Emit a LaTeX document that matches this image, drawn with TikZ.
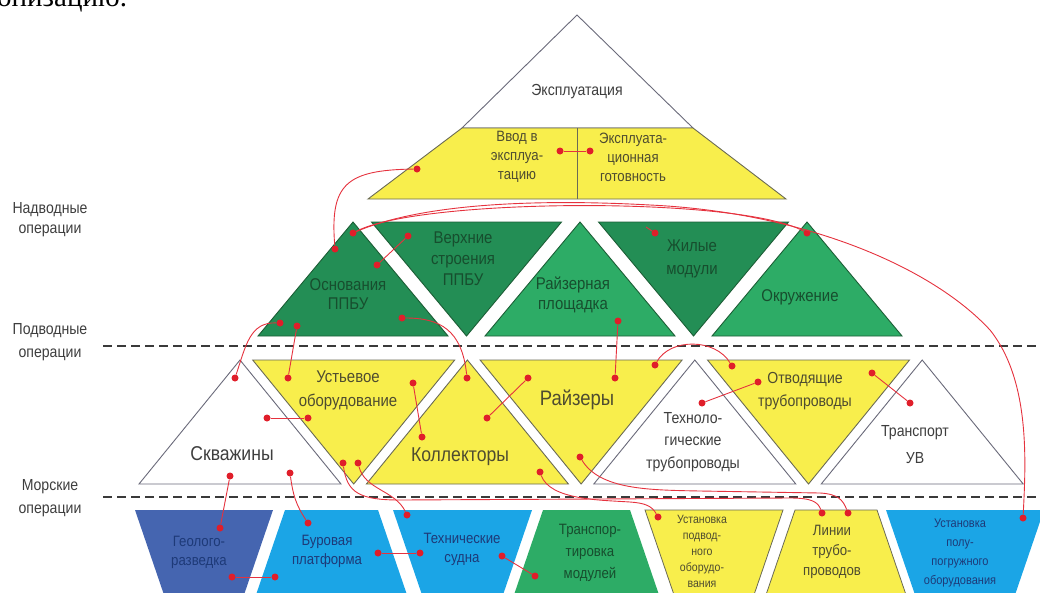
\documentclass[tikz,border=0pt]{standalone}
\usepackage{fontspec}
\setmainfont{Liberation Sans}[FakeStretch=0.88]
\newfontfamily\fragfont{Liberation Serif}
\newcommand\fsz[2]{\fontsize{#1}{#2}\selectfont}
\definecolor{ylw}{HTML}{F8EE4C}
\definecolor{grD}{HTML}{238E55}
\definecolor{grL}{HTML}{2DAC66}
\definecolor{gedge}{HTML}{1C5E36}
\definecolor{yedge}{HTML}{6A6A55}
\definecolor{triedge}{HTML}{6A6A7A}
\definecolor{navyB}{HTML}{4565B0}
\definecolor{ltB}{HTML}{1BA5E6}
\definecolor{dotred}{HTML}{E01E2A}
\definecolor{lnred}{HTML}{E5323E}
\definecolor{sepgray}{HTML}{3A3A3A}
\definecolor{txgray}{HTML}{3E3E3E}
\definecolor{txolive}{HTML}{4E4C30}
\definecolor{txgreen}{HTML}{174E2E}
\definecolor{txnavy}{HTML}{1E3A78}
\begin{document}
\begin{tikzpicture}[x=1pt,y=-1pt,
  tri/.style={line width=0.9pt, line join=miter},
  wtri/.style={tri, draw=triedge, fill=white},
  ytri/.style={tri, draw=yedge, fill=ylw},
  gtriD/.style={tri, draw=gedge, fill=grD},
  gtriL/.style={tri, draw=gedge, fill=grL},
  trapB/.style={fill=navyB},
  trapL/.style={fill=ltB},
  trapG/.style={fill=grL},
  trapY/.style={fill=ylw, draw=yedge, line width=0.8pt},
  lbl/.style={align=center, inner sep=0pt},
  conn/.style={draw=lnred, line width=0.9pt},
  rdot/.style={circle, fill=dotred, inner sep=0pt, minimum size=7pt},
  sepline/.style={draw=sepgray, line width=1.4pt, dash pattern=on 9pt off 5pt}
]
\useasboundingbox (0,0) rectangle (1040,592);

% fragment of body text at the top edge
\node[anchor=base west, inner sep=0pt, font=\fragfont\fsz{29}{30}] (frag) at (-3,6) {онизацию.};

% ---------- top pyramid ----------
\draw[tri, draw=triedge, fill=white] (577,15) -- (693,128) -- (462,128) -- cycle;
\draw[tri, draw=yedge, fill=ylw] (462,128) -- (693,128) -- (786,199) -- (368,199) -- cycle;
\draw[tri, draw=yedge] (577,128) -- (577,199);
\node[lbl, font=\fsz{16}{19}, text=txgray] (expl) at (577,92) {Эксплуатация};
\node[lbl, font=\fsz{15}{19}, text=txolive] (vvod) at (517,157) {Ввод в\\эксплуа-\\тацию};
\node[lbl, font=\fsz{15}{19}, text=txolive] (gotov) at (633,157) {Эксплуата-\\ционная\\готовность};

% ---------- tier 2 (surface) ----------
\draw[gtriD] (353,222) -- ++(95,114) -- ++(-190,0) -- cycle;
\draw[gtriD] (371.5,222) -- ++(190,0) -- ++(-95,114) -- cycle;
\draw[gtriL] (580,222) -- ++(95,114) -- ++(-190,0) -- cycle;
\draw[gtriD] (598.5,222) -- ++(190,0) -- ++(-95,114) -- cycle;
\draw[gtriL] (807,222) -- ++(95,114) -- ++(-190,0) -- cycle;
\node[lbl, font=\fsz{17}{19}, text=txgreen] (osn) at (348,294) {Основания\\ППБУ};
\node[lbl, font=\fsz{17}{21}, text=txgreen] (verh) at (463,259) {Верхние\\строения\\ППБУ};
\node[lbl, font=\fsz{17}{20}, text=txgreen] (rpl) at (573,295) {Райзерная\\площадка};
\node[lbl, font=\fsz{17}{23}, text=txgreen] (zhil) at (692,259) {Жилые\\модули};
\node[lbl, font=\fsz{17}{20}, text=txgreen] (okr) at (800,297) {Окружение};

% ---------- separators ----------
\draw[sepline] (103,346) -- (1040,346);
\draw[sepline] (103,497) -- (1040,497);
\node[lbl, font=\fsz{16}{20}, text=txgray] (nadv) at (50,220) {Надводные\\операции};
\node[lbl, font=\fsz{16}{23}, text=txgray] (podv) at (50,342) {Подводные\\операции};
\node[lbl, font=\fsz{16}{23}, text=txgray] (mors) at (50,498) {Морские\\операции};

% ---------- tier 3 (subsea) ----------
\draw[wtri] (240,360) -- ++(101,124) -- ++(-202,0) -- cycle;
\draw[ytri] (252.7,360) -- ++(202,0) -- ++(-101,124) -- cycle;
\draw[ytri] (467.4,360) -- ++(101,124) -- ++(-202,0) -- cycle;
\draw[ytri] (480.1,360) -- ++(202,0) -- ++(-101,124) -- cycle;
\draw[wtri] (694.8,360) -- ++(101,124) -- ++(-202,0) -- cycle;
\draw[ytri] (707.5,360) -- ++(202,0) -- ++(-101,124) -- cycle;
\draw[wtri] (922.2,360) -- ++(101,124) -- ++(-202,0) -- cycle;
\node[lbl, font=\fsz{20}{22}, text=txgray] (skv) at (232,454) {Скважины};
\node[lbl, font=\fsz{17}{24}, text=txolive] (ust) at (348,390) {Устьевое\\оборудование};
\node[lbl, font=\fsz{20}{22}, text=txolive] (koll) at (460,457) {Коллекторы};
\node[lbl, font=\fsz{21}{22}, text=txolive] (rayz) at (577,400) {Райзеры};
\node[lbl, font=\fsz{16}{22.5}, text=txgray] (tehn) at (693,442) {Техноло-\\гические\\трубопроводы};
\node[lbl, font=\fsz{16}{23}, text=txolive] (otv) at (805,391) {Отводящие\\трубопроводы};
\node[lbl, font=\fsz{16}{27}, text=txgray] (trans) at (915,445) {Транспорт\\УВ};

% ---------- bottom row (marine operations) ----------
\fill[trapB] (135,510) -- (273,510) -- (243.6,596) -- (164.4,596) -- cycle;
\fill[trapL] (285,510) -- (378,510) -- (407.4,596) -- (255.6,596) -- cycle;
\fill[trapL] (393,510) -- (532,510) -- (502.6,596) -- (422.4,596) -- cycle;
\fill[trapG] (543,510) -- (630,510) -- (659.4,596) -- (513.6,596) -- cycle;
\filldraw[trapY] (645,510) -- (783,510) -- (753.6,596) -- (674.4,596) -- cycle;
\filldraw[trapY] (795,510) -- (877,510) -- (906.4,596) -- (765.6,596) -- cycle;
\fill[trapL] (886,510) -- (1044,510) -- (1014.6,596) -- (915.4,596) -- cycle;
\node[lbl, font=\fsz{15}{19}, text=txnavy] (geol) at (199,552) {Геолого-\\разведка};
\node[lbl, font=\fsz{15}{19}, text=txnavy] (bur) at (327,551) {Буровая\\платформа};
\node[lbl, font=\fsz{15}{19}, text=txnavy] (tsud) at (462,549) {Технические\\судна};
\node[lbl, font=\fsz{15}{22}, text=txgreen] (trmod) at (590,553) {Транспор-\\тировка\\модулей};
\node[lbl, font=\fsz{12}{16}, text=txolive] (ustp) at (702,551) {Установка\\подвод-\\ного\\оборудо-\\вания};
\node[lbl, font=\fsz{15}{20}, text=txolive] (lin) at (832,552) {Линии\\трубо-\\проводов};
\node[lbl, font=\fsz{12.5}{19}, text=txnavy] (ustpp) at (960,553) {Установка\\полу-\\погружного\\оборудования};

% ---------- red dots ----------
\node[rdot] (e1) at (560,151) {};
\node[rdot] (e2) at (590,151) {};
\node[rdot] (e3) at (417,169) {};
\node[rdot] (o1) at (335,249) {};
\node[rdot] (o2) at (353,233) {};
\node[rdot] (v1) at (408,236) {};
\node[rdot] (o3) at (377,265) {};
\node[rdot] (z1) at (655,233) {};
\node[rdot] (k1) at (807,233) {};
\node[rdot] (o4) at (280,323) {};
\node[rdot] (o5) at (297,326) {};
\node[rdot] (o6) at (402,318) {};
\node[rdot] (r1) at (618,321) {};
\node[rdot] (s1) at (235,378) {};
\node[rdot] (u1) at (288,378) {};
\node[rdot] (c1) at (467,378) {};
\node[rdot] (p1) at (615,378) {};
\node[rdot] (s2) at (267,418) {};
\node[rdot] (u2) at (308,418) {};
\node[rdot] (u3) at (413,383) {};
\node[rdot] (c2) at (422,437) {};
\node[rdot] (c3) at (487,418) {};
\node[rdot] (p2) at (528,378) {};
\node[rdot] (p3) at (655,365) {};
\node[rdot] (t1) at (732,366) {};
\node[rdot] (t2) at (758,382) {};
\node[rdot] (g1) at (702,403) {};
\node[rdot] (t3) at (872,373) {};
\node[rdot] (y1) at (910,403) {};
\node[rdot] (u4) at (343,463) {};
\node[rdot] (u5) at (358,463) {};
\node[rdot] (c4) at (540,472) {};
\node[rdot] (p4) at (580,457) {};
\node[rdot] (s3) at (230,476) {};
\node[rdot] (s4) at (290,473) {};
\node[rdot] (b1) at (220,528) {};
\node[rdot] (b2) at (308,523) {};
\node[rdot] (b3) at (232,577) {};
\node[rdot] (b4) at (275,577) {};
\node[rdot] (b5) at (378,553) {};
\node[rdot] (b6) at (420,553) {};
\node[rdot] (b7) at (502,556) {};
\node[rdot] (b8) at (535,576) {};
\node[rdot] (b9) at (407,515) {};
\node[rdot] (b10) at (658,517) {};
\node[rdot] (b11) at (822,513) {};
\node[rdot] (b12) at (848,513) {};
\node[rdot] (b13) at (1023,518) {};
\coordinate (z0) at (646,227);

% ---------- red connectors ----------
\draw[conn] (e1) -- (e2);
\draw[conn] (e3) .. controls (345,170) and (330,185) .. (o1);
\draw[conn] (o2) .. controls (420,198) and (740,196) .. (k1);
\draw[conn] (o2) .. controls (430,200) and (560,200) .. (650,205)
   .. controls (800,212) and (930,265) .. (990,330)
   .. controls (1030,380) and (1026,460) .. (b13);
\draw[conn] (v1) -- (o3);
\draw[conn] (z1) -- (z0);
\draw[conn] (o4) .. controls (250,322) and (246,345) .. (s1);
\draw[conn] (o5) -- (u1);
\draw[conn] (o6) .. controls (440,318) and (462,330) .. (c1);
\draw[conn] (r1) -- (p1);
\draw[conn] (s2) -- (u2);
\draw[conn] (u3) -- (c2);
\draw[conn] (c3) -- (p2);
\draw[conn] (p3) .. controls (670,338) and (715,338) .. (t1);
\draw[conn] (t2) -- (g1);
\draw[conn] (t3) -- (y1);
\draw[conn] (s3) -- (b1);
\draw[conn] (s4) .. controls (293,495) and (296,505) .. (b2);
\draw[conn] (b3) -- (b4);
\draw[conn] (b5) -- (b6);
\draw[conn] (b7) -- (b8);
\draw[conn] (u4) .. controls (347,493) and (360,500) .. (400,500) -- (790,498)
   .. controls (812,498) and (818,502) .. (b11);
\draw[conn] (u5) .. controls (365,490) and (395,490) .. (b9);
\draw[conn] (c4) .. controls (550,500) and (600,500) .. (630,502)
   .. controls (645,503) and (652,506) .. (b10);
\draw[conn] (p4) .. controls (600,490) and (650,490) .. (700,491) -- (820,493)
   .. controls (838,494) and (843,500) .. (b12);
\end{tikzpicture}
\end{document}
